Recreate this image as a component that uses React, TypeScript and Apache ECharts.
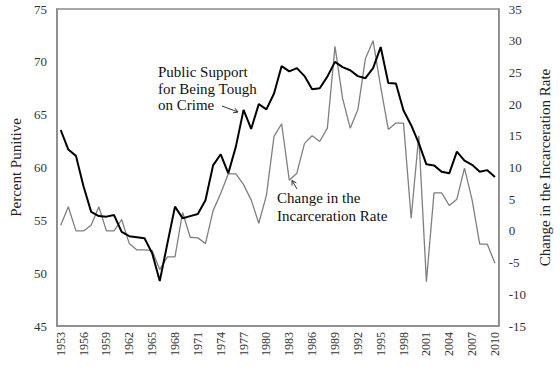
import React, { useEffect, useRef } from "react";
import * as echarts from "echarts";

const years: string[] = [];
for (let y = 1953; y <= 2010; y++) years.push(String(y));

const publicSupport = [
  63.55, 61.7, 61.1, 58.2, 55.8, 55.4, 55.35, 55.5, 53.9, 53.5,
  53.4, 53.3, 51.9, 49.25, 52.8, 56.3, 55.2, 55.4, 55.6, 56.9,
  60.2, 61.25, 59.45, 62.0, 65.45, 63.65, 66.0, 65.5, 67.0, 69.6,
  69.1, 69.4, 68.65, 67.4, 67.5, 68.6, 70.0, 69.5, 69.2, 68.65,
  68.45, 69.4, 71.4, 68.0, 67.95, 65.4, 64.0, 62.3, 60.3, 60.2,
  59.6, 59.45, 61.5, 60.65, 60.25, 59.6, 59.75, 59.1,
];

const incarcerationChange = [
  0.9, 3.8, 0, 0, 0.9, 3.8, 0, 0, 1.8, -2.0,
  -3.0, -3.0, -3.1, -6.1, -4.1, -4.1, 2.9, -1.0, -1.1, -2.0,
  3.2, 5.9, 9.0, 9.0, 7.3, 4.9, 1.2, 5.6, 14.9, 16.9,
  8.0, 9.1, 13.8, 15.0, 14.1, 16.2, 29.1, 20.9, 16.2, 19.1,
  27.2, 30.0, 22.7, 16.0, 17.0, 17.0, 2.0, 15.0, -8.0, 6.0,
  6.0, 4.0, 5.0, 9.9, 4.9, -2.1, -2.1, -5.1,
];

const leftTicks = { min: 45, max: 75, interval: 5 };
const rightTicks = { min: -15, max: 35, interval: 5 };

const FONT = '"Liberation Serif", "Times New Roman", serif';

function arrow(tail: [number, number], head: [number, number], len = 5) {
  const dx = head[0] - tail[0];
  const dy = head[1] - tail[1];
  const L = Math.hypot(dx, dy);
  const bx = -dx / L;
  const by = -dy / L;
  const c = Math.cos(Math.PI / 6);
  const s = Math.sin(Math.PI / 6);
  const w1: [number, number] = [head[0] + (bx * c - by * s) * len, head[1] + (bx * s + by * c) * len];
  const w2: [number, number] = [head[0] + (bx * c + by * s) * len, head[1] + (-bx * s + by * c) * len];
  return [
    { type: "line", shape: { x1: tail[0], y1: tail[1], x2: head[0], y2: head[1] }, style: { stroke: "#333", lineWidth: 1 }, z: 10 },
    { type: "polyline", shape: { points: [w1, head, w2] }, style: { stroke: "#333", lineWidth: 1, fill: null }, z: 10 },
  ];
}

export default function App() {
  const ref = useRef<HTMLDivElement>(null);
  useEffect(() => {
    if (!ref.current) return;
    const chart = echarts.init(ref.current, null, { renderer: "svg" });
    chart.setOption({
      animation: false,
      backgroundColor: "#fff",
      grid: {
        left: 48, right: 60, top: 9, bottom: 41,
        show: true, borderColor: "#8a8a8a", borderWidth: 1.5, backgroundColor: "transparent",
      },
      xAxis: {
        type: "category",
        data: years,
        boundaryGap: true,
        axisLine: { onZero: false, lineStyle: { color: "#8a8a8a", width: 1.5 } },
        axisTick: { show: false },
        axisLabel: {
          interval: 2, rotate: 90, margin: 6,
          fontFamily: FONT, fontSize: 12, color: "#333",
        },
      },
      yAxis: [
        {
          type: "value", ...leftTicks,
          name: "Percent Punitive", nameLocation: "middle", nameGap: 27,
          nameTextStyle: { fontFamily: FONT, fontSize: 15, color: "#222" },
          axisLine: { show: true, onZero: false, lineStyle: { color: "#8a8a8a", width: 1.5 } },
          axisTick: { show: false },
          splitLine: { show: false },
          axisLabel: { fontFamily: FONT, fontSize: 13, color: "#333", margin: 10 },
        },
        {
          type: "value", ...rightTicks, position: "right",
          name: "Change in the Incarceration Rate", nameLocation: "middle", nameGap: 33,
          nameTextStyle: { fontFamily: FONT, fontSize: 15, color: "#222" },
          axisLine: { show: true, onZero: false, lineStyle: { color: "#8a8a8a", width: 1.5 } },
          axisTick: { show: false },
          splitLine: { show: false },
          axisLabel: { fontFamily: FONT, fontSize: 13, color: "#333", margin: 10 },
        },
      ],
      series: [
        {
          name: "Change in the Incarceration Rate",
          type: "line", yAxisIndex: 1, data: incarcerationChange,
          symbol: "none", lineStyle: { color: "#7f7f7f", width: 1.3 }, z: 2,
        },
        {
          name: "Public Support for Being Tough on Crime",
          type: "line", yAxisIndex: 0, data: publicSupport,
          symbol: "none", lineStyle: { color: "#000", width: 2 }, z: 3,
        },
      ],
      graphic: [
        {
          type: "text", x: 158, y: 64, z: 10,
          style: {
            text: "Public Support\nfor Being Tough\non Crime",
            font: `15px ${FONT}`, fill: "#111", lineHeight: 16.5, verticalAlign: "top",
          },
        },
        ...arrow([222, 106], [238, 112]),
        {
          type: "text", x: 277, y: 189.5, z: 10,
          style: {
            text: "Change in the\nIncarceration Rate",
            font: `15px ${FONT}`, fill: "#111", lineHeight: 17.4, verticalAlign: "top",
          },
        },
        ...arrow([297, 189], [292, 180.5]),
      ],
    });
    return () => chart.dispose();
  }, []);
  return <div ref={ref} style={{ width: 560, height: 367, position: "absolute", left: 0, top: 0 }} />;
}
